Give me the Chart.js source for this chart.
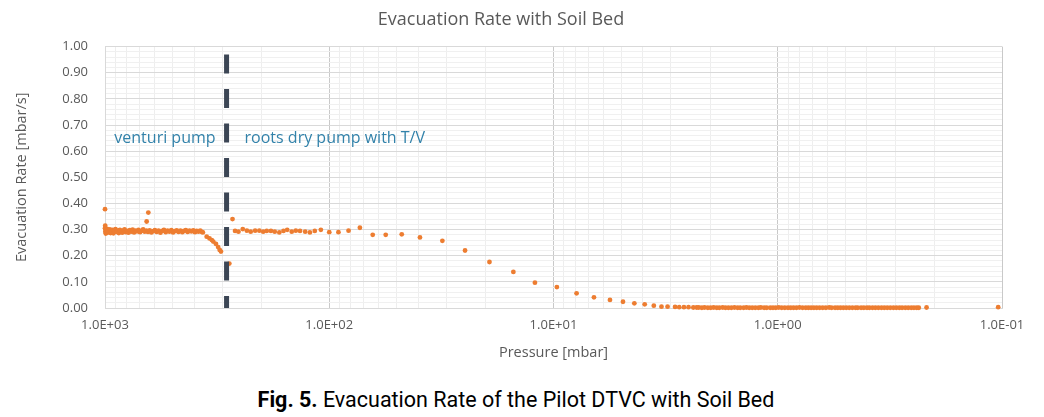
<!DOCTYPE html>
<html>
<head>
<meta charset="utf-8">
<script src="https://cdn.jsdelivr.net/npm/chart.js@4/dist/chart.umd.min.js"></script>
<style>
  body { margin: 0; background: #fff; }
  #wrap { position: relative; width: 1044px; height: 417px; }
  #cap { position: absolute; left: -6px; top: 386px; width: 1044px; text-align: center;
         font-family: Roboto, sans-serif; font-size: 21.5px; line-height: 28px; color: #000; }
</style>
</head>
<body>
<div id="wrap">
  <canvas id="chart-area" width="1044" height="372"></canvas>
  <div id="cap"><b>Fig. 5.</b> Evacuation Rate of the Pilot DTVC with Soil Bed</div>
</div>
<script>
// venturi pump stage (pressure mbar, rate mbar/s)
var venturiPressure = [
  1000, 1000, 998, 996, 994, 992, 989, 985, 980, 975,
  968, 960, 952, 944, 935, 926, 917, 908, 898, 888,
  878, 868, 858, 848, 838, 828, 818, 808, 797, 786,
  775, 764, 753, 742, 731, 720, 709, 698, 687, 676,
  665, 652, 641, 654, 643, 632, 621, 610, 599, 588,
  577, 566, 556, 546, 536, 526, 516, 506, 497, 488,
  479, 470, 461, 452, 444, 436, 428, 420, 412, 404,
  397, 390, 383, 376, 370, 366, 352, 342, 334, 329,
  320, 313, 308, 304];
var venturiRate = [
  0.378, 0.305, 0.315, 0.292, 0.300, 0.285, 0.298, 0.290, 0.303, 0.288,
  0.297, 0.292, 0.301, 0.287, 0.295, 0.299, 0.286, 0.294, 0.302, 0.291,
  0.296, 0.287, 0.299, 0.293, 0.288, 0.297, 0.301, 0.290, 0.295, 0.288,
  0.298, 0.292, 0.300, 0.289, 0.296, 0.293, 0.299, 0.290, 0.295, 0.301,
  0.292, 0.331, 0.365, 0.296, 0.291, 0.297, 0.289, 0.294, 0.298, 0.291,
  0.296, 0.288, 0.295, 0.299, 0.290, 0.296, 0.292, 0.298, 0.289, 0.294,
  0.297, 0.291, 0.296, 0.290, 0.295, 0.298, 0.291, 0.296, 0.293, 0.297,
  0.290, 0.295, 0.292, 0.296, 0.291, 0.289, 0.273, 0.266, 0.260, 0.254,
  0.245, 0.233, 0.222, 0.216];

// roots dry pump with T/V stage
var rootsPressure = [
  279, 270, 263, 254, 243, 233, 224, 214, 205, 197,
  190, 182, 175, 167, 160, 154, 147, 141, 135, 128,
  122, 116, 109, 100, 91, 82, 73, 64, 56, 47.5,
  39.4, 31.3, 24.8, 19.3, 15.1, 12.1, 9.66, 7.89, 6.6, 5.6,
  4.9, 4.36, 3.92, 3.57, 3.3, 3.1, 2.87, 2.75, 2.62, 2.5,
  2.38, 2.3, 2.25, 2.18, 2.12, 2.05, 1.99, 1.93, 1.87, 1.82,
  1.76, 1.71, 1.66, 1.61, 1.56, 1.51, 1.47, 1.42, 1.38, 1.34,
  1.30, 1.26, 1.22, 1.19, 1.15, 1.12, 1.08, 1.05, 1.02, 0.99,
  0.96, 0.93, 0.90, 0.875, 0.85, 0.825, 0.80, 0.775, 0.75, 0.73,
  0.71, 0.69, 0.67, 0.65, 0.63, 0.61, 0.59, 0.575, 0.555, 0.54,
  0.525, 0.51, 0.495, 0.48, 0.465, 0.45, 0.44, 0.425, 0.413, 0.40,
  0.39, 0.378, 0.367, 0.356, 0.345, 0.335, 0.325, 0.315, 0.305, 0.296,
  0.287, 0.279, 0.27, 0.262, 0.254, 0.247, 0.24, 0.235, 0.217, 0.104];
var rootsRate = [
  0.170, 0.340, 0.295, 0.292, 0.302, 0.296, 0.292, 0.296, 0.296, 0.292,
  0.295, 0.295, 0.292, 0.289, 0.295, 0.299, 0.292, 0.296, 0.295, 0.292,
  0.289, 0.295, 0.299, 0.290, 0.290, 0.296, 0.307, 0.280, 0.280, 0.282,
  0.270, 0.257, 0.220, 0.176, 0.138, 0.097, 0.080, 0.056, 0.041, 0.031,
  0.024, 0.018, 0.014, 0.009, 0.005, 0.005, 0.004, 0.003, 0.003, 0.003,
  0.002, 0.002, 0.002, 0.001, 0.002, 0.001, 0.001, 0.002, 0.001, 0.001,
  0.002, 0.001, 0.001, 0.001, 0.002, 0.001, 0.001, 0.001, 0.002, 0.001,
  0.001, 0.001, 0.001, 0.002, 0.001, 0.001, 0.001, 0.001, 0.001, 0.002,
  0.001, 0.001, 0.001, 0.001, 0.001, 0.001, 0.002, 0.001, 0.001, 0.001,
  0.001, 0.001, 0.001, 0.001, 0.001, 0.001, 0.002, 0.001, 0.001, 0.001,
  0.001, 0.001, 0.001, 0.001, 0.001, 0.001, 0.001, 0.001, 0.001, 0.001,
  0.001, 0.001, 0.001, 0.001, 0.001, 0.001, 0.001, 0.001, 0.001, 0.001,
  0.001, 0.001, 0.001, 0.001, 0.001, 0.001, 0.001, 0.001, 0.002, 0.003];

var pumpSwitch = 287;           // pressure where the pumps change
var xDecades = [0.1, 1, 10, 100, 1000];
var yTickLabels = ['0.00', '0.10', '0.20', '0.30', '0.40', '0.50', '0.60', '0.70', '0.80', '0.90', '1.00'];

function toPoints(px, py) {
    var out = [];
    for (var i = 0; i < px.length; i++) out.push({ x: px[i], y: py[i] });
    return out;
}
function isDecade(v) {
    var l = Math.log10(v);
    return Math.abs(l - Math.round(l)) < 1e-6;
}
function sci(v) {
    var e = Math.round(Math.log10(v));
    return '1.0E' + (e < 0 ? '-' : '+') + String(Math.abs(e)).padStart(2, '0');
}
function isMajorY(v) {
    return Math.abs(v * 10 - Math.round(v * 10)) < 1e-6;
}

var pumpLabels = {
    id: 'pumpLabels',
    afterDatasetsDraw: function (chart) {
        var ctx = chart.ctx;
        var lx = chart.scales.x.getPixelForValue(pumpSwitch);
        var ly = chart.scales.y.getPixelForValue(0.65);
        ctx.save();
        ctx.font = '16px "Open Sans"';
        ctx.fillStyle = '#3282aa';
        ctx.textBaseline = 'middle';
        ctx.textAlign = 'right';
        ctx.fillText('venturi pump', lx - 11, ly);
        ctx.textAlign = 'left';
        ctx.fillText('roots dry pump with T/V', lx + 18, ly);
        ctx.restore();
    }
};

Chart.defaults.font.family = '"Open Sans", sans-serif';
Chart.defaults.color = '#595959';

var config = {
    type: 'scatter',
    data: {
        datasets: [
            {
                data: toPoints(venturiPressure, venturiRate),
                backgroundColor: '#ED7D31',
                borderWidth: 0,
                pointRadius: 2.4,
                clip: false,
                order: 2
            },
            {
                data: toPoints(rootsPressure, rootsRate),
                backgroundColor: '#ED7D31',
                borderWidth: 0,
                pointRadius: 2.4,
                clip: false,
                order: 2
            },
            {
                type: 'line',
                data: [{ x: pumpSwitch, y: 0.97 }, { x: pumpSwitch, y: 0 }],
                borderColor: '#3c4655',
                borderWidth: 5,
                borderDash: [19, 15.5],
                pointRadius: 0,
                clip: false,
                order: 1
            }
        ]
    },
    plugins: [pumpLabels],
    options: {
        responsive: false,
        animation: false,
        events: [],
        layout: { padding: { left: 0, right: 42, top: 0, bottom: 0 } },
        plugins: {
            legend: { display: false },
            tooltip: { enabled: false },
            title: {
                display: true,
                text: 'Evacuation Rate with Soil Bed',
                color: '#595959',
                font: { size: 18, weight: 'normal' },
                padding: { top: 9, bottom: 16 }
            }
        },
        scales: {
            x: {
                type: 'logarithmic',
                reverse: true,
                min: 0.1,
                max: 1000,
                afterFit: function (s) { s.height = 64; },
                afterBuildTicks: function (s) {
                    var t = [];
                    xDecades.forEach(function (d) {
                        for (var m = 1; m <= 9; m++) {
                            if (d * m <= 1000) t.push({ value: d * m });
                        }
                    });
                    s.ticks = t;
                },
                ticks: {
                    autoSkip: false,
                    maxRotation: 0,
                    padding: 9,
                    font: { size: 13 },
                    color: '#595959',
                    callback: function (v) { return isDecade(v) ? sci(v) : ''; }
                },
                grid: {
                    drawTicks: false,
                    color: function (c) { return isDecade(c.tick.value) ? '#c9c9c9' : '#eeeeee'; }
                },
                border: { color: '#d9d9d9' },
                title: {
                    display: true,
                    text: 'Pressure [mbar]',
                    color: '#595959',
                    font: { size: 14.5 },
                    padding: { top: 0, bottom: 10.6 }
                }
            },
            y: {
                min: 0,
                max: 1,
                afterFit: function (s) { s.width = 105; },
                afterBuildTicks: function (s) {
                    var t = [];
                    for (var i = 0; i <= 50; i++) t.push({ value: Math.round(i * 2) / 100 });
                    s.ticks = t;
                },
                ticks: {
                    autoSkip: false,
                    padding: 17,
                    font: { size: 13 },
                    color: '#595959',
                    callback: function (v) { return isMajorY(v) ? yTickLabels[Math.round(v * 10)] : ''; }
                },
                grid: {
                    drawTicks: false,
                    color: function (c) { return isMajorY(c.tick.value) ? '#d9d9d9' : '#f0f0f0'; }
                },
                border: { color: '#d9d9d9' },
                title: {
                    display: true,
                    text: 'Evacuation Rate [mbar/s]',
                    color: '#595959',
                    font: { size: 14.5 },
                    padding: { top: 13.3, bottom: 0 }
                }
            }
        }
    }
};

var ctx = document.getElementById('chart-area').getContext('2d');
new Chart(ctx, config);
</script>
</body>
</html>
